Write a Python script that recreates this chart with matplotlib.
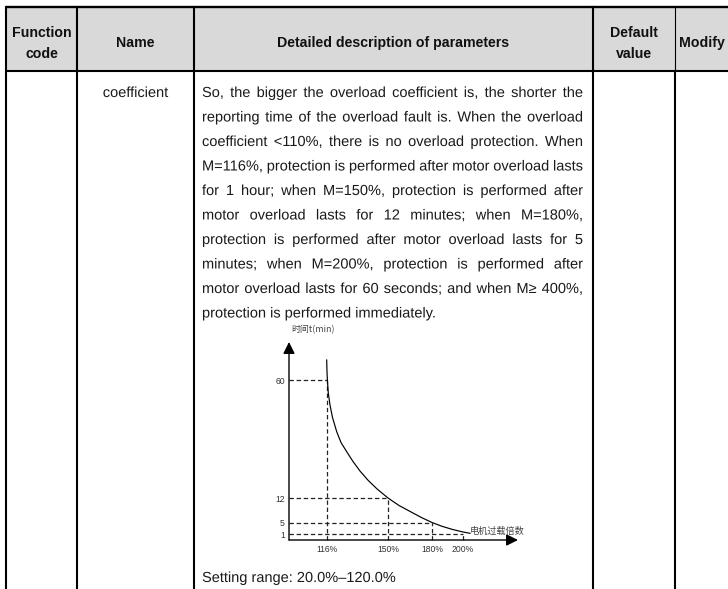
import numpy as np
import matplotlib
matplotlib.use("Agg")
import matplotlib.pyplot as plt
from matplotlib.patches import Rectangle, PathPatch
from matplotlib.font_manager import FontProperties
from matplotlib.textpath import TextPath, text_to_path
from matplotlib.transforms import Affine2D

# ---------------- data ----------------
header_labels = ["Function\ncode", "Name", "Detailed description of parameters", "Default\nvalue", "Modify"]
name_text = "coefficient"
desc_lines = [
    "So, the bigger the overload coefficient is, the shorter the",
    "reporting time of the overload fault is. When the overload",
    "coefficient <110%, there is no overload protection. When",
    "M=116%, protection is performed after motor overload lasts",
    "for 1 hour; when M=150%, protection is performed after",
    "motor overload lasts for 12 minutes; when M=180%,",
    "protection is performed after motor overload lasts for 5",
    "minutes; when M=200%, protection is performed after",
    "motor overload lasts for 60 seconds; and when M\u2265 400%,",
    "protection is performed immediately.",
]
setting_text = "Setting range: 20.0%\u2013120.0%"

overload_pct = [116, 150, 180, 200]      # M (%)
trip_time_min = [60, 12, 5, 1]           # t (min)
curve_M = [115.87, 116.0, 116.22, 116.72, 117.67, 119.07, 121.41, 123.80, 126.98, 130.49,
           134.39, 138.85, 143.87, 150.0, 157.50, 167.05, 173.18, 180.0, 186.45, 192.90,
           200.0, 203.82]
curve_t = [68.14, 63.25, 60.0, 54.71, 49.83, 44.75, 38.97, 34.58, 30.83, 26.85,
           22.98, 19.24, 15.70, 12.0, 9.86, 7.71, 6.34, 5.0, 3.68, 2.63,
           1.70, 1.24]
y_axis_label = "时间t(min)"
x_axis_label = "电机过载倍数"

# ---------------- layout ----------------
W, H = 728, 589
fig = plt.figure(figsize=(W / 100, H / 100), dpi=100)
ax0 = fig.add_axes([0, 0, 1, 1])
ax0.set_xlim(0, W)
ax0.set_ylim(H, 0)
ax0.axis("off")

col_x = [6, 77, 194, 593, 675]
top_y, head_y = 7, 71
line_col = "black"

ax0.add_patch(Rectangle((col_x[0], top_y), W - col_x[0], head_y - top_y,
                        facecolor="#d9d9d9", edgecolor="none", zorder=0))
ax0.plot([col_x[0], W], [top_y, top_y], color=line_col, lw=1.7, solid_capstyle="butt")
ax0.plot([col_x[0], W], [head_y, head_y], color=line_col, lw=1.5, solid_capstyle="butt")
for i, x in enumerate(col_x):
    if i == 4:
        ax0.plot([x, x], [top_y, head_y], color=line_col, lw=0.8)
        ax0.plot([x, x], [head_y, H], color=line_col, lw=1.5)
    else:
        ax0.plot([x, x], [top_y, H], color=line_col, lw=1.5)

fam = ["Liberation Sans", "DejaVu Sans"]
cjk = ["Noto Sans CJK SC", "DejaVu Sans"]

# header text
col_centers = [(col_x[0] + col_x[1]) / 2, (col_x[1] + col_x[2]) / 2,
               (col_x[2] + col_x[3]) / 2, (col_x[3] + col_x[4]) / 2, 702]
for cx, lab in zip(col_centers, header_labels):
    parts = lab.split("\n")
    ys = [42] if len(parts) == 1 else [32, 53]
    for yy, p in zip(ys, parts):
        ax0.text(cx, yy + 5, p, ha="center", va="baseline", fontsize=10.2,
                 fontweight="bold", family=fam, color="#111")

# body text drawn as paths (exact baselines, justified)
body_px = 10.5 * 100 / 72
fp_px = FontProperties(family=fam, size=body_px)
txt_col = "#1a1a1a"


def str_width(s):
    return text_to_path.get_text_width_height_descent(s, fp_px, ismath=False)[0]


def draw_str(x, yb, s, ha="left"):
    if ha == "center":
        x = x - str_width(s) / 2
    tp = TextPath((0, 0), s, size=body_px, prop=FontProperties(family=fam))
    tr = Affine2D().scale(1, -1).translate(x, yb) + ax0.transData
    ax0.add_patch(PathPatch(tp, transform=tr, facecolor=txt_col, edgecolor="none", lw=0))


y0, dy = 92, 24.5
draw_str(col_centers[1], y0 + 5, name_text, ha="center")

x_left, x_right = 202, 583
space_w = str_width(" ")
for i, line in enumerate(desc_lines):
    words = line.split(" ")
    widths = [str_width(w) for w in words]
    justify = i < len(desc_lines) - 1
    gap = (x_right - x_left - sum(widths)) / (len(words) - 1) if justify else space_w
    x = x_left
    yb = y0 + i * dy + 5
    for w, wd in zip(words, widths):
        draw_str(x, yb, w)
        x += wd + gap

draw_str(x_left, 577 + 5, setting_text)

# ---------------- inset chart ----------------
ax_l, ax_r, ax_t, ax_b = 289, 518, 342, 540
axc = fig.add_axes([ax_l / W, (H - ax_b) / H, (ax_r - ax_l) / W, (ax_b - ax_t) / H])
axc.patch.set_alpha(0)

xv = [100, 116, 150, 180, 200, 230]
xp = [0, 38, 99, 143, 174, 229]
yv = [0, 1, 5, 12, 60, 75.46]
yp = [0, 6, 17.5, 42, 160, 198]
axc.set_xscale("function", functions=(lambda v: np.interp(v, xv, xp), lambda p: np.interp(p, xp, xv)))
axc.set_yscale("function", functions=(lambda v: np.interp(v, yv, yp), lambda p: np.interp(p, yp, yv)))
axc.set_xlim(xv[0], xv[-1])
axc.set_ylim(yv[0], yv[-1])
for s in axc.spines.values():
    s.set_visible(False)

arrow_kw = dict(arrowstyle="-|>,head_length=0.5,head_width=0.25", lw=1.0, color="black",
                shrinkA=0, shrinkB=0, mutation_scale=14)
axc.annotate("", xy=(0, 1), xytext=(0, 0), xycoords="axes fraction",
             arrowprops=arrow_kw, annotation_clip=False)
axc.annotate("", xy=(1, 0), xytext=(0, 0), xycoords="axes fraction",
             arrowprops=arrow_kw, annotation_clip=False)

dash_kw = dict(color="#222", lw=0.9, dashes=(3.5, 2.2), clip_on=False)
for m, t in zip(overload_pct, trip_time_min):
    axc.plot([xv[0], m], [t, t], **dash_kw)
    axc.plot([m, m], [yv[0], t], **dash_kw)

axc.plot(curve_M, curve_t, color="black", lw=0.85, clip_on=False,
         solid_joinstyle="round")

axc.set_xticks(overload_pct, labels=[f"{m}%" for m in overload_pct])
axc.set_yticks(trip_time_min, labels=[str(t) for t in trip_time_min])
axc.tick_params(axis="both", length=0, labelsize=6.2, colors="#333")
axc.tick_params(axis="x", pad=3.5)
axc.tick_params(axis="y", pad=3.0)
for lab in axc.get_xticklabels() + axc.get_yticklabels():
    lab.set_family(fam)
axc.minorticks_off()

ax0.text(291, 330, y_axis_label, ha="left", va="center", fontsize=6.4, family=cjk, color="#444")
ax0.text(470, 531, x_axis_label, ha="left", va="center", fontsize=6.6, family=cjk, color="#444")

fig.savefig("out.png", dpi=100)
